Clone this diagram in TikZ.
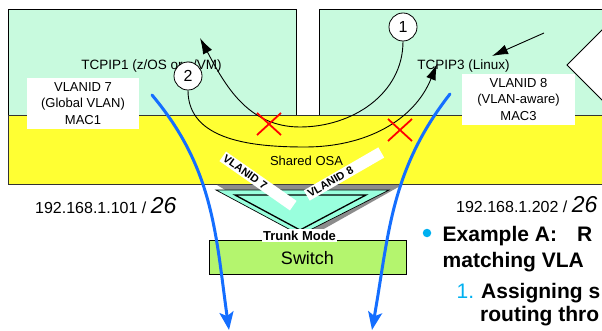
\documentclass[tikz,border=0pt]{standalone}
\usepackage{fontspec}
\setmainfont{Liberation Sans}
\usetikzlibrary{arrows.meta}
\definecolor{mint}{RGB}{200,250,222}
\definecolor{oyellow}{RGB}{255,255,51}
\definecolor{trunkteal}{RGB}{153,255,221}
\definecolor{swgreen}{RGB}{180,245,110}
\definecolor{flowblue}{RGB}{20,110,255}
\definecolor{bulletcyan}{RGB}{0,176,240}
\begin{document}
\begin{tikzpicture}[x=1pt,y=1pt,
  lparbox/.style={draw=black, line width=0.8pt, fill=mint, rectangle, inner sep=0pt, minimum height=107pt},
  lbl/.style={fill=white, rectangle, inner sep=0pt, minimum height=51pt, align=center, font=\fontsize{13}{16.5}\selectfont},
  plain/.style={anchor=base, inner sep=0pt},
  numcirc/.style={circle, draw=black, line width=0.8pt, fill=white, minimum size=28pt, inner sep=0pt, font=\fontsize{16}{18}\selectfont},
  flowarrow/.style={line width=0.9pt, -{Latex[length=16pt,width=10pt]}},
  bluearrow/.style={draw=flowblue, line width=3pt, -{Stealth[length=18pt,width=14pt,inset=4pt]}},
  xmark/.style={draw=red, line width=1.8pt},
  vlbl/.style={fill=white, inner sep=2pt, text width=82pt, align=left, font=\bfseries\fontsize{11}{12}\selectfont},
  bul/.style={anchor=base west, inner sep=0pt, font=\bfseries\fontsize{21}{25}\selectfont}
]
\useasboundingbox (0,0) rectangle (602,-331);
\clip (0,0) rectangle (602,-331);
% LPAR boxes
\node[lparbox, minimum width=288pt] (lpar1) at (152,-62.5) {};
\node[lparbox, minimum width=300pt] (lpar3) at (469,-62.5) {};
\draw[fill=white, line width=1pt] (567,-65) -- (640,8) -- (640,-138) -- cycle;
% shared OSA band
\node[draw=black!80, fill=oyellow, line width=1pt, minimum width=620pt, minimum height=69pt, inner sep=0pt] (osa) at (318,-150.5) {};
% texts in boxes
\node[plain, font=\fontsize{13.5}{16}\selectfont] (t1) at (151.5,-70) {TCPIP1 (z/OS or z/VM)};
\node[plain, font=\fontsize{13.5}{16}\selectfont] (t3) at (463.5,-70) {TCPIP3 (Linux)};
\node[lbl, minimum width=112pt] (lbl1) at (83,-103.5) {VLANID 7\\(Global VLAN)\\MAC1};
\node[lbl, minimum width=113pt] (lbl3) at (518.5,-99.5) {VLANID 8\\(VLAN-aware)\\MAC3};
\node[plain, font=\fontsize{13}{16}\selectfont] (osatxt) at (306.5,-166) {Shared OSA};
% trunk triangle
\fill[black!45] (217,-185) -- (402,-185) -- (306,-239) -- cycle;
\draw[fill=trunkteal, line width=0.7pt] (216,-190) -- (389,-190) -- (300,-235) -- cycle;
\draw[line width=1.3pt] (235,-195) -- (366,-195) -- (300,-230) -- cycle;
\node[vlbl, rotate=-35] (v7) at (258,-181) {VLANID 7};
\node[vlbl, rotate=30] (v8) at (344,-174) {VLANID 8};
% switch
\node[draw=black, fill=swgreen, line width=0.8pt, minimum width=197pt, minimum height=34pt, inner sep=0pt] (sw) at (307.5,-257) {};
\node[plain, font=\fontsize{18}{20}\selectfont] (swtxt) at (307.5,-264) {Switch};
\node[anchor=base, fill=white, inner sep=1.5pt, font=\bfseries\fontsize{13}{15}\selectfont] (trunk) at (299.5,-240) {Trunk Mode};
% circles
\node[numcirc] (c1) at (403,-27) {1};
\node[numcirc] (c2) at (188,-76) {2};
% flows
\coordinate (tip1) at (200,-38);
\coordinate (tip3) at (437,-64);
\coordinate (low1) at (300,-127);
\coordinate (low2) at (305,-147);
\draw[flowarrow] (c1.south) to[out=-90,in=0] (low1) to[out=180,in=-62] (tip1);
\draw[flowarrow] (c2.south) to[out=-90,in=180] (low2) to[out=0,in=-112] (tip3);
\coordinate (sa) at (544,-33);
\coordinate (sb) at (492,-56);
\draw[flowarrow] (sa) -- (sb);
% red crosses
\coordinate (x1) at (269,-124);
\coordinate (x2) at (400,-130);
\draw[xmark] ([shift={(-12,11)}]x1) -- ([shift={(12,-11)}]x1) ([shift={(-12,-11)}]x1) -- ([shift={(12,11)}]x1);
\draw[xmark] ([shift={(-12,11)}]x2) -- ([shift={(12,-11)}]x2) ([shift={(-12,-11)}]x2) -- ([shift={(12,11)}]x2);
% blue arrows
\coordinate (b1s) at (152,-95);
\coordinate (b1e) at (229,-330);
\coordinate (b3s) at (450,-94);
\coordinate (b3e) at (372,-330);
\draw[bluearrow, line cap=round] (b1s) to[out=-50,in=98] (b1e);
\draw[bluearrow, line cap=round] (b3s) to[out=-128,in=80] (b3e);
% IP addresses
\node[anchor=base west, inner sep=0pt, font=\fontsize{16}{18}\selectfont] (ip1) at (35,-214) {192.168.1.101 / {\fontsize{23}{26}\selectfont\itshape 26}};
\node[anchor=base west, inner sep=0pt, font=\fontsize{16}{18}\selectfont] (ip3) at (456,-212) {192.168.1.202 / {\fontsize{23}{26}\selectfont\itshape 26}};
% bullet text
\node[circle, fill=bulletcyan, minimum size=8.5pt, inner sep=0pt] (dot) at (427,-233) {};
\node[bul] (la) at (442.5,-241.5) {Example A:\hspace{20pt}R};
\node[bul] (lb) at (442.5,-267.5) {matching VLA};
\node[anchor=base west, inner sep=0pt, text=bulletcyan, font=\fontsize{21}{25}\selectfont] (num) at (456.5,-298) {1.};
\node[bul] (lc) at (481,-298) {Assigning s};
\node[bul] (ld) at (480,-321.5) {routing thro};
\end{tikzpicture}
\end{document}
